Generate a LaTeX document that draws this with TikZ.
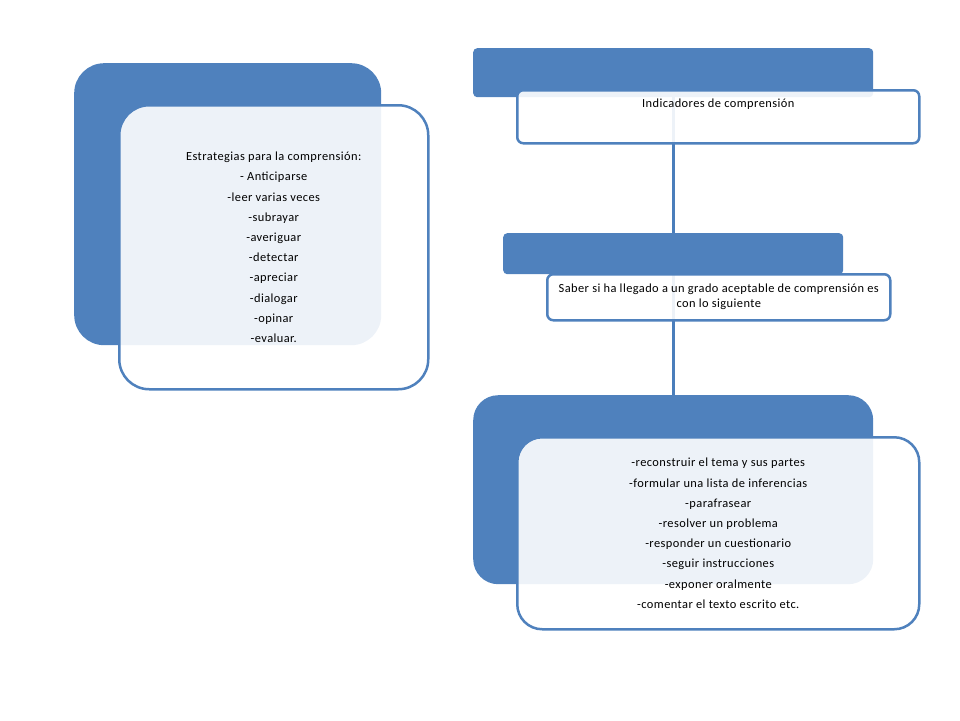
\documentclass[tikz,border=0pt]{standalone}
\usepackage{fontspec}
\setmainfont[LetterSpace=3.5]{Carlito}
\usetikzlibrary{positioning}
\definecolor{sablue}{HTML}{4F81BD}
\definecolor{sadark}{HTML}{4A7EBB}
\tikzset{
  backbox/.style={fill=sablue, draw=none, rounded corners=#1, inner sep=0pt, anchor=north west},
  frontbox/.style={fill=white, fill opacity=0.9, text opacity=1, draw=sablue, line width=2.5pt,
    rounded corners=#1, inner sep=0pt, anchor=north west, align=center,
    font=\fontsize{12.4}{20.2}\selectfont},
  conn/.style={draw=sadark, line width=3pt}
}
\begin{document}
\begin{tikzpicture}[x=1pt,y=-1pt]
\useasboundingbox (0,0) rectangle (960,720);

\node[backbox=30pt, minimum width=307pt, minimum height=282pt] (leftback) at (74,63) {};
\node[frontbox=30pt, minimum width=309pt, minimum height=284pt] (leftfront) at (118,104)
  {Estrategias para la comprensión:\\- Anticiparse\\-leer varias veces\\-subrayar\\-averiguar\\-detectar\\-apreciar\\-dialogar\\-opinar\\-evaluar.};

\node[backbox=4pt, minimum width=400pt, minimum height=49pt] (topback) at (473,48) {};
\node[backbox=4pt, minimum width=340pt, minimum height=41pt] (midback) at (503,233) {};
\node[backbox=25pt, minimum width=400pt, minimum height=189pt] (botback) at (473,395) {};

\draw[conn] (topback.south) -- (midback.north);
\draw[conn] (midback.south) -- (botback.north);

\node[frontbox=6pt, minimum width=402pt, minimum height=53pt] (topfront) at (516,89) {};
\node[anchor=north, inner sep=0pt, font=\fontsize{12.4}{15}\selectfont] (indtext) at ([yshift=-10pt]topfront.north) {Indicadores de comprensión};

\node[frontbox=6pt, minimum width=343pt, minimum height=46pt, font=\fontsize{12.4}{15}\selectfont] (midfront) at (546,273)
  {Saber si ha llegado a un grado aceptable de comprensión es\\con lo siguiente};

\node[frontbox=25pt, minimum width=402pt, minimum height=192pt] (botfront) at (516,436)
  {-reconstruir el tema y sus partes\\-formular una lista de inferencias\\-parafrasear\\-resolver un problema\\-responder un cuestionario\\-seguir instrucciones\\-exponer oralmente\\-comentar el texto escrito etc.};

\end{tikzpicture}
\end{document}
